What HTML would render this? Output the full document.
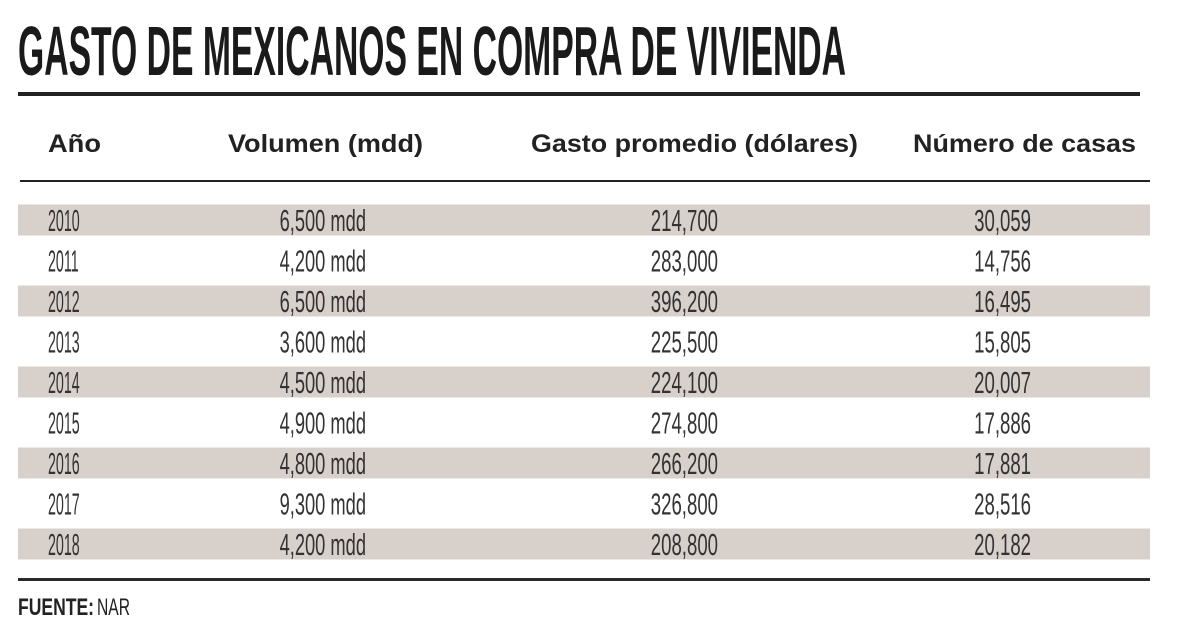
<!DOCTYPE html>
<html><head><meta charset="utf-8"><style>
html,body{margin:0;padding:0;background:#fff;width:1200px;height:630px;overflow:hidden}
svg{display:block}
</style></head><body>
<svg width="1200" height="630" viewBox="0 0 1200 630" font-family="Liberation Sans, sans-serif">
<text x="18" y="75" font-size="70" font-weight="bold" fill="#1a1a1a" textLength="828" lengthAdjust="spacingAndGlyphs">GASTO DE MEXICANOS EN COMPRA DE VIVIENDA</text>
<rect x="18" y="92" width="1122" height="4" fill="#222"/>
<g font-size="25" font-weight="bold" fill="#222">
<text x="48" y="152" textLength="53" lengthAdjust="spacingAndGlyphs">Año</text>
<text x="228" y="152" textLength="195" lengthAdjust="spacingAndGlyphs">Volumen (mdd)</text>
<text x="531" y="152" textLength="327" lengthAdjust="spacingAndGlyphs">Gasto promedio (dólares)</text>
<text x="913" y="152" textLength="223" lengthAdjust="spacingAndGlyphs">Número de casas</text>
</g>
<rect x="20" y="180" width="1130" height="2" fill="#222"/>
<g id="rows"></g>
<rect x="18" y="578" width="1132" height="3" fill="#2a2a2a"/>
<text x="18" y="615" font-size="24" fill="#222"><tspan font-weight="bold" textLength="76" lengthAdjust="spacingAndGlyphs">FUENTE:</tspan><tspan dx="3" textLength="33" lengthAdjust="spacingAndGlyphs">NAR</tspan></text>
</svg>
<script>
const years=["2010","2011","2012","2013","2014","2015","2016","2017","2018"];
const volumes=["6,500 mdd","4,200 mdd","6,500 mdd","3,600 mdd","4,500 mdd","4,900 mdd","4,800 mdd","9,300 mdd","4,200 mdd"];
const avgSpend=["214,700","283,000","396,200","225,500","224,100","274,800","266,200","326,800","208,800"];
const houses=["30,059","14,756","16,495","15,805","20,007","17,886","17,881","28,516","20,182"];
const NS="http://www.w3.org/2000/svg";
const g=document.getElementById('rows');
function txt(parent,str,x,y,anchor,sx){
  const grp=document.createElementNS(NS,'g');
  grp.setAttribute('transform','translate('+x+','+y+') scale('+sx+',1)');
  const t=document.createElementNS(NS,'text');
  t.setAttribute('font-size','31');t.setAttribute('fill','#333');
  t.setAttribute('text-anchor',anchor);
  t.textContent=str;
  grp.appendChild(t);parent.appendChild(grp);return t;
}
years.forEach((yr,i)=>{
  const cy=220+i*40.5;
  const row=document.createElementNS(NS,'g');
  
  
  if(i%2===0){
    const r=document.createElementNS(NS,'rect');
    r.setAttribute('x',18);r.setAttribute('y',cy-15.5);r.setAttribute('width',1132);r.setAttribute('height',31);
    r.setAttribute('fill','#d8d0cb');
    
    
    row.appendChild(r);
  }
  const by=cy+11;
  let t=txt(row,yr,48,by,'start',0.46);
  
  
  t=txt(row,volumes[i],366,by,'end',0.59);
  
  
  t=txt(row,avgSpend[i],718,by,'end',0.6);
  
  
  t=txt(row,houses[i],1031,by,'end',0.6);
  
  
  g.appendChild(row);
});
</script>
</body></html>
